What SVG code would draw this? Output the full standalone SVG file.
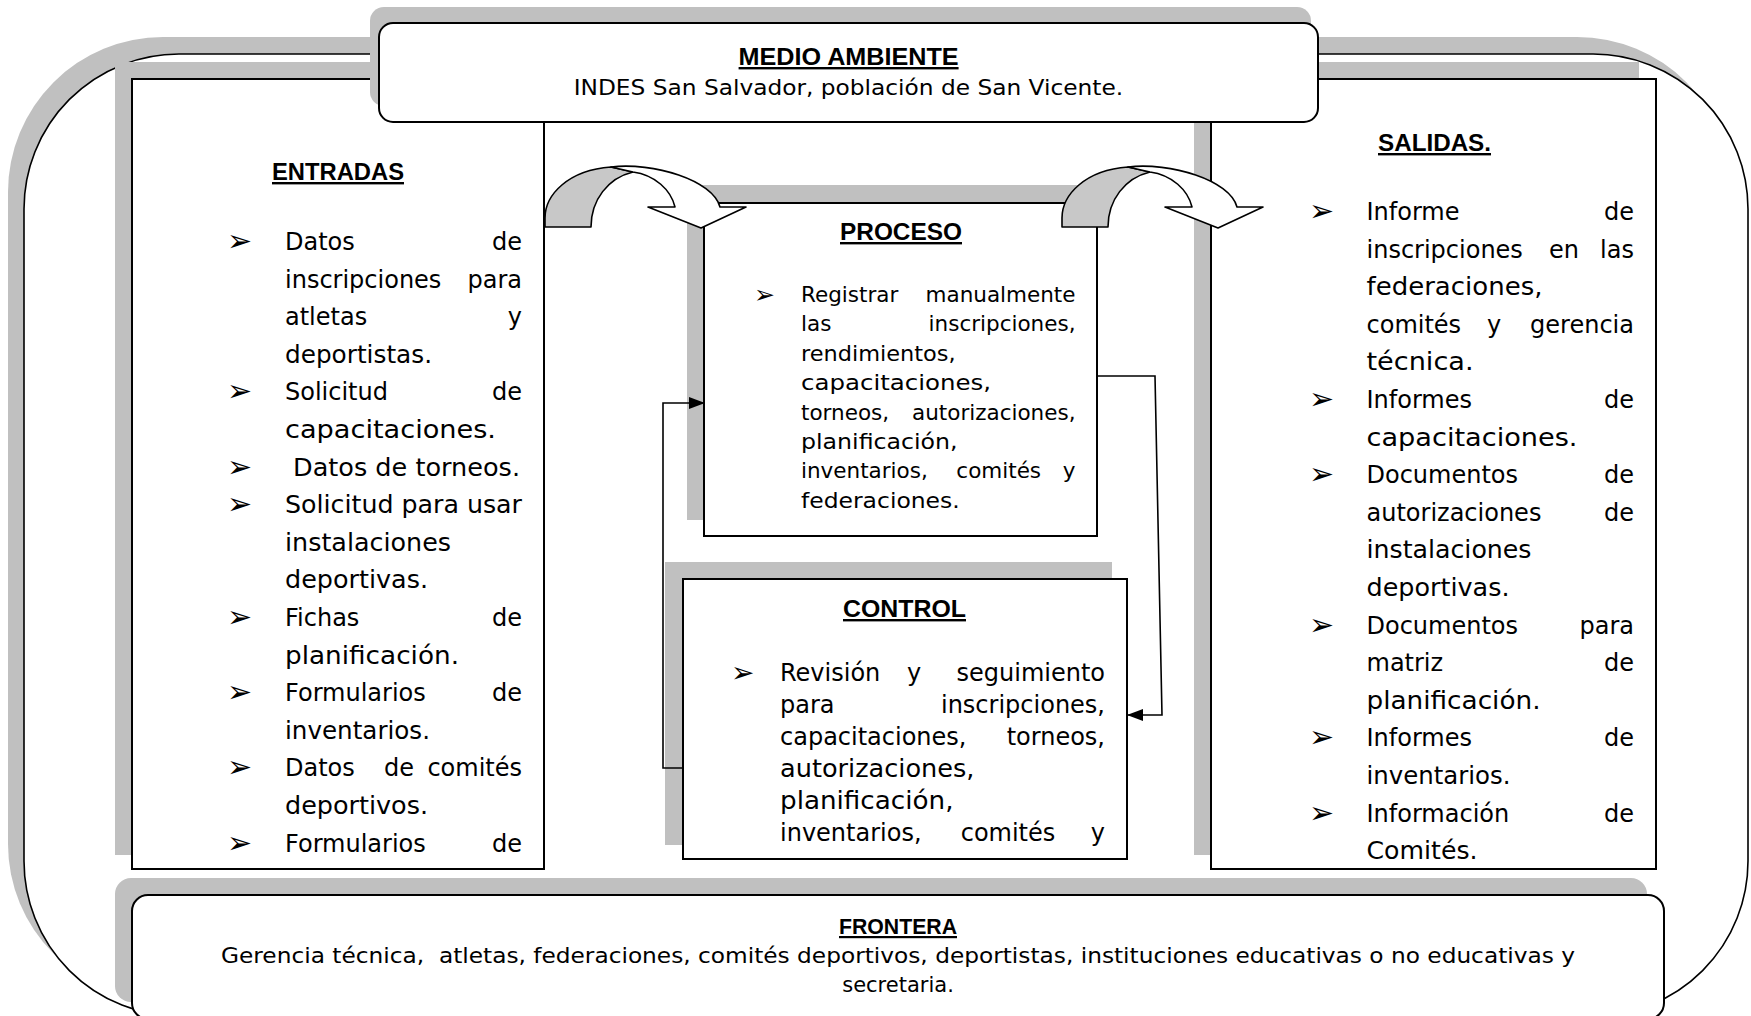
<svg xmlns="http://www.w3.org/2000/svg" width="1751" height="1016" viewBox="0 0 1751 1016">
<defs>
<style>
.sh{fill:#c0c0c0}
.bx{fill:#fff;stroke:#000;stroke-width:2}
.hd{font-family:"Liberation Sans",Arial,sans-serif;font-weight:bold;font-size:24px;text-decoration:underline;fill:#000}
.tx{font-family:"DejaVu Sans","Noto Sans",sans-serif;font-size:24px;fill:#000}
.tp{font-size:21.5px}
.bu{font-family:"DejaVu Sans",sans-serif;font-size:30px;fill:#000}
.bp{font-size:25px}
.bc{font-size:28px}
.e{text-anchor:end}
.m{text-anchor:middle}
.ln{fill:none;stroke:#000;stroke-width:1.6}
.ag{fill:#c8c8c8;stroke:#000;stroke-width:1.6;stroke-linejoin:round}
.aw{fill:#fff;stroke:#000;stroke-width:1.6;stroke-linejoin:round}
</style>
<marker id="ah" markerUnits="userSpaceOnUse" markerWidth="16" markerHeight="12" refX="15" refY="6" orient="auto" viewBox="0 0 16 12">
<path d="M0,0 L16,6 L0,12 Z" fill="#000"/>
</marker>
</defs>

<g id="entorno">
<rect class="sh" x="8" y="37" width="1724" height="962" rx="155"/>
<rect x="24" y="54" width="1724" height="962" rx="155" fill="#fff" stroke="#000" stroke-width="1.6"/>
</g>

<g id="entradas">
<rect class="sh" x="115" y="62" width="412" height="793"/>
<rect class="bx" x="132" y="79" width="412" height="790"/>
<text class="hd" x="272" y="180" textLength="132" lengthAdjust="spacingAndGlyphs">ENTRADAS</text>
<g class="tx">
<text class="bu" x="227" y="251">➢</text><text x="285" y="250">Datos</text><text class="e" x="522" y="250">de</text>
<text x="285" y="287.6">inscripciones</text><text class="e" x="522" y="287.6">para</text>
<text x="285" y="325.2">atletas</text><text class="e" x="522" y="325.2">y</text>
<text x="285" y="362.8" textLength="147" lengthAdjust="spacingAndGlyphs">deportistas.</text>
<text class="bu" x="227" y="401.4">➢</text><text x="285" y="400.4">Solicitud</text><text class="e" x="522" y="400.4">de</text>
<text x="285" y="438" textLength="211" lengthAdjust="spacingAndGlyphs">capacitaciones.</text>
<text class="bu" x="227" y="476.6">➢</text><text x="293" y="475.6" textLength="227" lengthAdjust="spacingAndGlyphs">Datos de torneos.</text>
<text class="bu" x="227" y="514.2">➢</text><text x="285" y="513.2" textLength="237" lengthAdjust="spacingAndGlyphs">Solicitud para usar</text>
<text x="285" y="550.8" textLength="166" lengthAdjust="spacingAndGlyphs">instalaciones</text>
<text x="285" y="588.4" textLength="143" lengthAdjust="spacingAndGlyphs">deportivas.</text>
<text class="bu" x="227" y="627">➢</text><text x="285" y="626">Fichas</text><text class="e" x="522" y="626">de</text>
<text x="285" y="663.6" textLength="174" lengthAdjust="spacingAndGlyphs">planificación.</text>
<text class="bu" x="227" y="702.2">➢</text><text x="285" y="701.2">Formularios</text><text class="e" x="522" y="701.2">de</text>
<text x="285" y="738.8" textLength="145" lengthAdjust="spacingAndGlyphs">inventarios.</text>
<text class="bu" x="227" y="777.4">➢</text><text x="285" y="776.4">Datos</text><text class="m" x="399" y="776.4">de</text><text class="e" x="522" y="776.4">comités</text>
<text x="285" y="814" textLength="143" lengthAdjust="spacingAndGlyphs">deportivos.</text>
<text class="bu" x="227" y="852.6">➢</text><text x="285" y="851.6">Formularios</text><text class="e" x="522" y="851.6">de</text>
</g>
</g>

<g id="salidas">
<rect class="sh" x="1194" y="62" width="445" height="793"/>
<rect class="bx" x="1211" y="79" width="445" height="790"/>
<text class="hd" x="1378" y="151" textLength="113" lengthAdjust="spacingAndGlyphs">SALIDAS.</text>
<g class="tx">
<text class="bu" x="1309" y="221">➢</text><text x="1366.5" y="220">Informe</text><text class="e" x="1634" y="220">de</text>
<text x="1366.5" y="257.6">inscripciones</text><text class="m" x="1564" y="257.6">en</text><text class="e" x="1634" y="257.6">las</text>
<text x="1366.5" y="295.2" textLength="176" lengthAdjust="spacingAndGlyphs">federaciones,</text>
<text x="1366.5" y="332.8">comités</text><text class="m" x="1494" y="332.8">y</text><text class="e" x="1634" y="332.8">gerencia</text>
<text x="1366.5" y="370.4" textLength="107" lengthAdjust="spacingAndGlyphs">técnica.</text>
<text class="bu" x="1309" y="409">➢</text><text x="1366.5" y="408">Informes</text><text class="e" x="1634" y="408">de</text>
<text x="1366.5" y="445.6" textLength="211" lengthAdjust="spacingAndGlyphs">capacitaciones.</text>
<text class="bu" x="1309" y="484.2">➢</text><text x="1366.5" y="483.2">Documentos</text><text class="e" x="1634" y="483.2">de</text>
<text x="1366.5" y="520.8">autorizaciones</text><text class="e" x="1634" y="520.8">de</text>
<text x="1366.5" y="558.4" textLength="165" lengthAdjust="spacingAndGlyphs">instalaciones</text>
<text x="1366.5" y="596" textLength="143" lengthAdjust="spacingAndGlyphs">deportivas.</text>
<text class="bu" x="1309" y="634.6">➢</text><text x="1366.5" y="633.6">Documentos</text><text class="e" x="1634" y="633.6">para</text>
<text x="1366.5" y="671.2">matriz</text><text class="e" x="1634" y="671.2">de</text>
<text x="1366.5" y="708.8" textLength="174" lengthAdjust="spacingAndGlyphs">planificación.</text>
<text class="bu" x="1309" y="747.4">➢</text><text x="1366.5" y="746.4">Informes</text><text class="e" x="1634" y="746.4">de</text>
<text x="1366.5" y="784" textLength="144" lengthAdjust="spacingAndGlyphs">inventarios.</text>
<text class="bu" x="1309" y="822.6">➢</text><text x="1366.5" y="821.6">Información</text><text class="e" x="1634" y="821.6">de</text>
<text x="1366.5" y="859.2" textLength="111" lengthAdjust="spacingAndGlyphs">Comités.</text>
</g>
</g>

<g id="frontera">
<rect class="sh" x="115" y="878" width="1532" height="124" rx="16"/>
<rect class="bx" x="132" y="895" width="1532" height="124" rx="16"/>
<text class="hd" x="839" y="934" style="font-size:22px" textLength="118" lengthAdjust="spacingAndGlyphs">FRONTERA</text>
<text class="tx" x="221" y="963" style="font-size:21px;white-space:pre" textLength="1354" lengthAdjust="spacingAndGlyphs">Gerencia técnica,  atletas, federaciones, comités deportivos, deportistas, instituciones educativas o no educativas y</text>
<text class="tx m" x="898" y="992" style="font-size:21px">secretaria.</text>
</g>

<g id="proceso">
<rect class="sh" x="687" y="185" width="393" height="335"/>
<rect class="bx" x="704" y="203" width="393" height="333"/>
<text class="hd" x="840" y="240" textLength="122" lengthAdjust="spacingAndGlyphs">PROCESO</text>
<g class="tx tp">
<text class="bu bp" x="754" y="303">➢</text><text x="801" y="302">Registrar</text><text class="e" x="1075.5" y="302">manualmente</text>
<text x="801" y="331.4">las</text><text class="e" x="1075.5" y="331.4">inscripciones,</text>
<text x="801" y="360.8" textLength="154.6" lengthAdjust="spacingAndGlyphs">rendimientos,</text>
<text x="801" y="390.2" textLength="190" lengthAdjust="spacingAndGlyphs">capacitaciones,</text>
<text x="801" y="419.6">torneos,</text><text class="e" x="1075.5" y="419.6">autorizaciones,</text>
<text x="801" y="449" textLength="156.6" lengthAdjust="spacingAndGlyphs">planificación,</text>
<text x="801" y="478.4">inventarios,</text><text class="m" x="998.7" y="478.4">comités</text><text class="e" x="1075.5" y="478.4">y</text>
<text x="801" y="507.8" textLength="158.7" lengthAdjust="spacingAndGlyphs">federaciones.</text>
</g>
</g>

<g id="control">
<rect class="sh" x="665" y="562" width="447" height="283"/>
<rect class="bx" x="683" y="579" width="444" height="280"/>
<text class="hd" x="843" y="617" textLength="123" lengthAdjust="spacingAndGlyphs">CONTROL</text>
<g class="tx">
<text class="bu bc" x="731" y="682">➢</text><text x="780" y="681">Revisión</text><text class="m" x="914" y="681">y</text><text class="e" x="1105" y="681">seguimiento</text>
<text x="780" y="713">para</text><text class="e" x="1105" y="713">inscripciones,</text>
<text x="780" y="745">capacitaciones,</text><text class="e" x="1105" y="745">torneos,</text>
<text x="780" y="777" textLength="194.5" lengthAdjust="spacingAndGlyphs">autorizaciones,</text>
<text x="780" y="809" textLength="173.5" lengthAdjust="spacingAndGlyphs">planificación,</text>
<text x="780" y="841">inventarios,</text><text class="m" x="1008" y="841">comités</text><text class="e" x="1105" y="841">y</text>
</g>
</g>

<g id="medio-ambiente">
<rect class="sh" x="370" y="7" width="941" height="99" rx="14"/>
<rect class="bx" x="379" y="23" width="939" height="99" rx="14"/>
<text class="hd" x="738.6" y="65" textLength="220" lengthAdjust="spacingAndGlyphs">MEDIO AMBIENTE</text>
<text class="tx" x="573.7" y="95" style="font-size:21px" textLength="549.5" lengthAdjust="spacingAndGlyphs">INDES San Salvador, población de San Vicente.</text>
</g>

<g id="connectors">
<g id="flecha-entrada" transform="translate(-517,0)">
<path class="ag" d="M1062,227 L1062,218 C1062,195 1085,170 1128,167 L1150,172 C1125,178 1108,200 1108,227 Z"/>
<path class="aw" d="M1128,167 C1170,162 1230,180 1237,207 L1263,207 L1218,228 L1165,207 L1192,207 C1188,190 1172,175 1150,172 Z"/>
</g>
<g id="flecha-salida">
<path class="ag" d="M1062,227 L1062,218 C1062,195 1085,170 1128,167 L1150,172 C1125,178 1108,200 1108,227 Z"/>
<path class="aw" d="M1128,167 C1170,162 1230,180 1237,207 L1263,207 L1218,228 L1165,207 L1192,207 C1188,190 1172,175 1150,172 Z"/>
</g>
<path class="ln" d="M1097,376 L1155,376 L1162,715 L1128,715" marker-end="url(#ah)"/>
<path class="ln" d="M683,768 L663,768 L663,403 L704,403" stroke-width="2" marker-end="url(#ah)"/>
</g>
</svg>
